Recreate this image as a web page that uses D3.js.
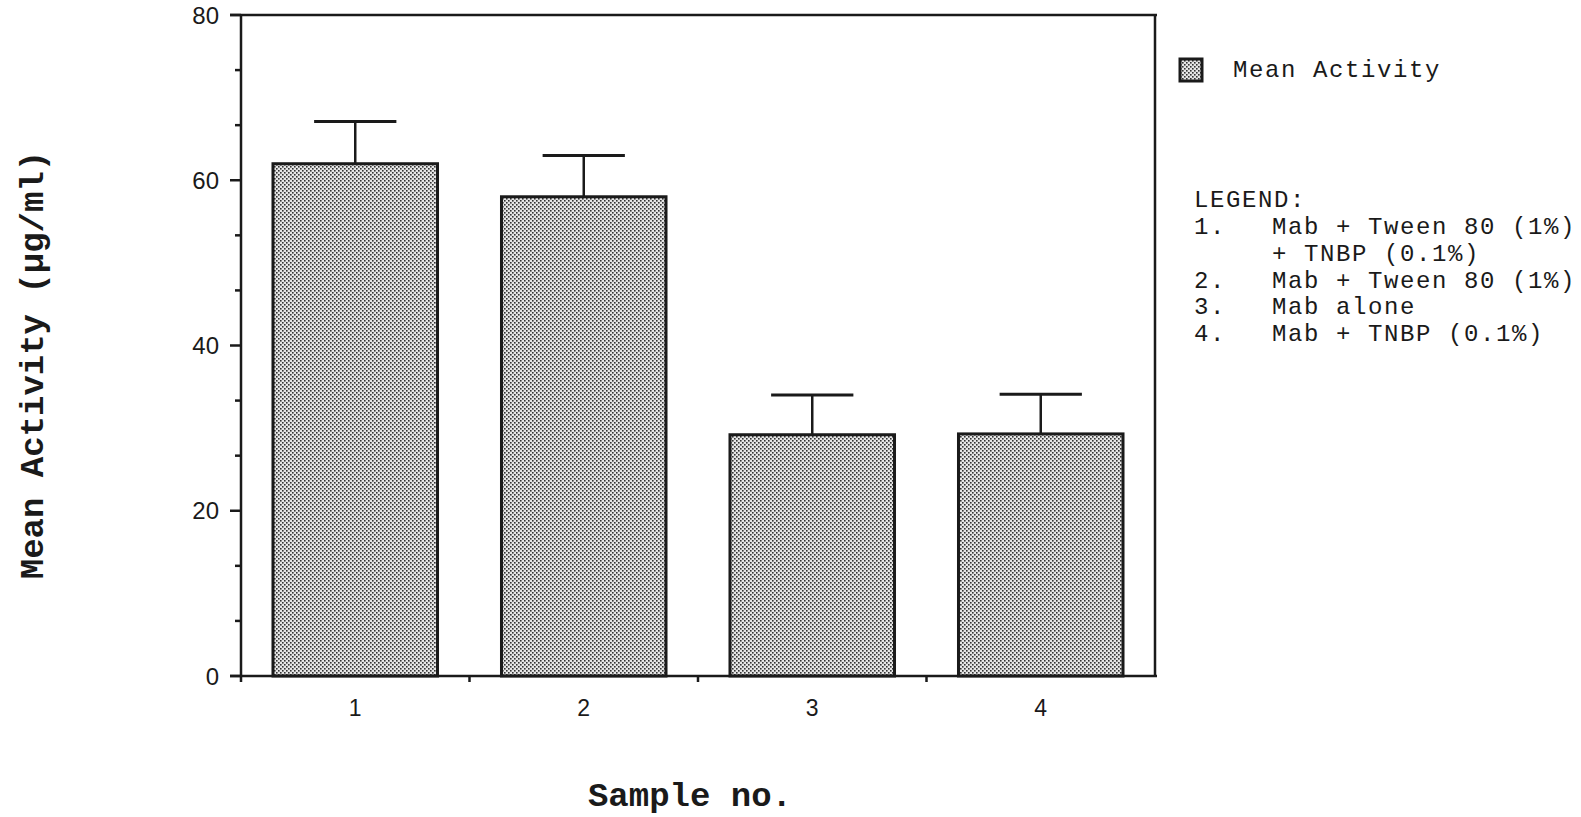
<!DOCTYPE html>
<html>
<head>
<meta charset="utf-8">
<script src="https://cdn.jsdelivr.net/npm/d3@7"></script>
<style>
  html, body { margin: 0; padding: 0; background: #fff; }
  svg { display: block; }
</style>
</head>
<body>
<svg id="chart" width="1581" height="817"></svg>
<script>
const SAMPLES = ['1', '2', '3', '4'];
const MEANS = [62.0, 58.0, 29.2, 29.3];
const ERRORS = [5.1, 5.0, 4.8, 4.8];
const Y_TICKS = [0, 20, 40, 60, 80];
const LEGEND_NUMS = ['1.', '', '2.', '3.', '4.'];
const LEGEND_TEXT = [
    'Mab + Tween 80 (1%)',
    '+ TNBP (0.1%)',
    'Mab + Tween 80 (1%)',
    'Mab alone',
    'Mab + TNBP (0.1%)'
];

const MONO = '"Liberation Mono", "Courier New", monospace';
const SANS = '"Liberation Sans", Arial, sans-serif';
const INK = '#1a1a1a';

const margin = {left: 241, right: 426, top: 15, bottom: 141};
const svg = d3.select('#chart');
const W = +svg.attr('width'), H = +svg.attr('height');
const x0 = margin.left, x1 = W - margin.right;
const y0 = H - margin.bottom, y1 = margin.top;

const x = d3.scaleBand()
    .domain(SAMPLES)
    .range([x0, x1])
    .paddingInner(0.28)
    .paddingOuter(0.14);
const y = d3.scaleLinear().domain([0, 80]).range([y0, y1]);

// stipple fill like the old laser-printed bars
const defs = svg.append('defs');
const pat = defs.append('pattern')
    .attr('id', 'dots')
    .attr('patternUnits', 'userSpaceOnUse')
    .attr('width', 4).attr('height', 4);
pat.append('rect').attr('width', 4).attr('height', 4).attr('fill', '#e6e6e6');
pat.append('rect').attr('x', 0).attr('y', 0).attr('width', 1.6).attr('height', 1.6).attr('fill', '#333');
pat.append('rect').attr('x', 2).attr('y', 2).attr('width', 1.6).attr('height', 1.6).attr('fill', '#333');

// frame: top and right border
svg.append('line')
    .attr('x1', x0 - 11).attr('x2', x1 + 2)
    .attr('y1', y1).attr('y2', y1)
    .attr('stroke', INK).attr('stroke-width', 2.5);
svg.append('line')
    .attr('x1', x1).attr('x2', x1)
    .attr('y1', y1).attr('y2', y0)
    .attr('stroke', INK).attr('stroke-width', 2.5);

// bars
const data = SAMPLES.map((s, i) => ({s: s, m: MEANS[i], e: ERRORS[i]}));
const bw = x.bandwidth();

const g = svg.append('g');
g.selectAll('line.err')
    .data(data)
    .join('line')
    .attr('class', 'err')
    .attr('x1', d => x(d.s) + bw / 2).attr('x2', d => x(d.s) + bw / 2)
    .attr('y1', d => y(d.m)).attr('y2', d => y(d.m + d.e))
    .attr('stroke', INK).attr('stroke-width', 2.5);
g.selectAll('line.cap')
    .data(data)
    .join('line')
    .attr('class', 'cap')
    .attr('x1', d => x(d.s) + bw / 4).attr('x2', d => x(d.s) + bw * 3 / 4)
    .attr('y1', d => y(d.m + d.e)).attr('y2', d => y(d.m + d.e))
    .attr('stroke', INK).attr('stroke-width', 3);
g.selectAll('rect.bar')
    .data(data)
    .join('rect')
    .attr('class', 'bar')
    .attr('x', d => x(d.s))
    .attr('y', d => y(d.m))
    .attr('width', bw)
    .attr('height', d => y(0) - y(d.m))
    .attr('fill', 'url(#dots)')
    .attr('stroke', INK).attr('stroke-width', 3);

// y axis with two minor ticks between labels
const minor = d3.range(0, 80.01, 20 / 3);
svg.append('line')
    .attr('x1', x0).attr('x2', x0)
    .attr('y1', y1).attr('y2', y0 + 6)
    .attr('stroke', INK).attr('stroke-width', 2.5);
svg.selectAll('line.ytick')
    .data(minor)
    .join('line')
    .attr('class', 'ytick')
    .attr('x1', (d, i) => i % 3 == 0 ? x0 - 11 : x0 - 6).attr('x2', x0)
    .attr('y1', d => y(d)).attr('y2', d => y(d))
    .attr('stroke', INK).attr('stroke-width', 2.5);
svg.selectAll('text.ylab')
    .data(Y_TICKS)
    .join('text')
    .attr('class', 'ylab')
    .attr('x', x0 - 22)
    .attr('y', d => y(d))
    .attr('dy', '0.36em')
    .attr('text-anchor', 'end')
    .attr('font-family', SANS).attr('font-size', 24)
    .attr('fill', INK)
    .text(d => d);

// x axis, ticks on the band edges
svg.append('line')
    .attr('x1', x0 - 11).attr('x2', x1 + 2)
    .attr('y1', y0).attr('y2', y0)
    .attr('stroke', INK).attr('stroke-width', 2.5);
svg.selectAll('line.xtick')
    .data(d3.range(1, SAMPLES.length))
    .join('line')
    .attr('class', 'xtick')
    .attr('x1', d => x0 + d * x.step()).attr('x2', d => x0 + d * x.step())
    .attr('y1', y0).attr('y2', y0 + 6)
    .attr('stroke', INK).attr('stroke-width', 2.5);
svg.selectAll('text.xlab')
    .data(SAMPLES)
    .join('text')
    .attr('class', 'xlab')
    .attr('x', d => x(d) + bw / 2)
    .attr('y', y0 + 40)
    .attr('text-anchor', 'middle')
    .attr('font-family', SANS).attr('font-size', 23)
    .attr('fill', INK)
    .text(d => d);

// axis titles
svg.append('text')
    .attr('x', 690).attr('y', 806)
    .attr('text-anchor', 'middle')
    .attr('font-family', MONO).attr('font-weight', 'bold').attr('font-size', 34)
    .attr('fill', INK)
    .text('Sample no.');
svg.append('text')
    .attr('transform', 'translate(43,365) rotate(-90)')
    .attr('text-anchor', 'middle')
    .attr('font-family', MONO).attr('font-weight', 'bold').attr('font-size', 34)
    .attr('fill', INK)
    .text('Mean Activity (\u00b5g/ml)');

// series legend
svg.append('rect')
    .attr('x', 1180).attr('y', 59)
    .attr('width', 22).attr('height', 22)
    .attr('fill', 'url(#dots)')
    .attr('stroke', INK).attr('stroke-width', 3);
svg.append('text')
    .attr('x', 1233).attr('y', 77)
    .attr('font-family', MONO).attr('font-size', 24).attr('letter-spacing', 1.6)
    .attr('fill', INK)
    .text('Mean Activity');

// sample key
const key = svg.append('g')
    .attr('font-family', MONO).attr('font-size', 24).attr('letter-spacing', 1.6)
    .attr('fill', INK);
key.append('text').attr('x', 1194).attr('y', 207).text('LEGEND:');
key.selectAll('text.num')
    .data(LEGEND_NUMS)
    .join('text')
    .attr('class', 'num')
    .attr('x', 1194)
    .attr('y', (d, i) => 234 + i * 26.8)
    .text(d => d);
key.selectAll('text.item')
    .data(LEGEND_TEXT)
    .join('text')
    .attr('class', 'item')
    .attr('x', 1272)
    .attr('y', (d, i) => 234 + i * 26.8)
    .text(d => d);
</script>
</body>
</html>
